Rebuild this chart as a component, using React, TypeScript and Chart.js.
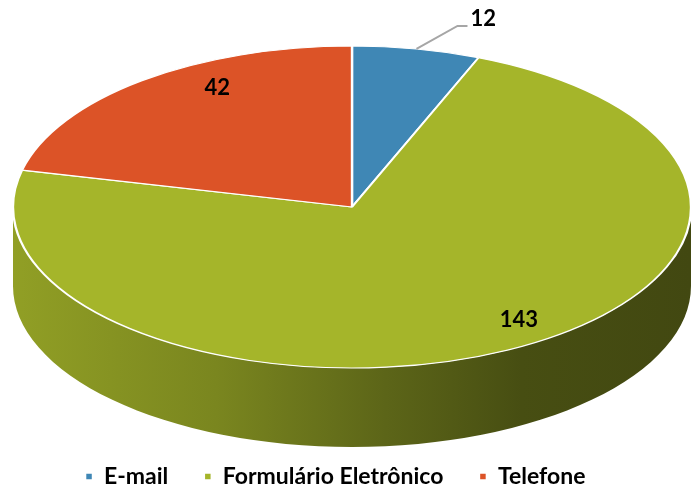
import React, { useEffect, useRef } from "react";
import { Chart, registerables } from "chart.js";
Chart.register(...registerables);

const categories = ["E-mail", "Formulário Eletrônico", "Telefone"];
const values = [12, 143, 42];
const colors = ["#3F87B5", "#A5B52A", "#DC5327"];

// ellipse geometry of the 3D pie top face (layout)
const GEO = { cx: 352, cy: 207, rx: 339, ry: 161, depth: 79 };
// label placement factors relative to slice mid-angle (layout)
const LABEL_FACTORS = [
  [0, 0],
  [1.07, 0.79],
  [0.64, 0.94],
];

function shade(hex: string, f: number) {
  const n = parseInt(hex.slice(1), 16);
  const r = Math.round(((n >> 16) & 255) * f);
  const g = Math.round(((n >> 8) & 255) * f);
  const b = Math.round((n & 255) * f);
  return `rgb(${r},${g},${b})`;
}

const pie3d = {
  id: "pie3d",
  beforeDatasetsDraw(chart: any) {
    const meta = chart.getDatasetMeta(0);
    const a0 = meta.data[0];
    const { x: x0, y: y0, outerRadius: R } = a0;
    const ctx = chart.ctx;
    const { cx, cy, rx, ry, depth } = GEO;
    meta.data.forEach((arc: any, i: number) => {
      const s = Math.max(arc.startAngle, 0);
      const e = Math.min(arc.endAngle, Math.PI);
      if (s >= e) return;
      const grad = ctx.createLinearGradient(cx - rx, 0, cx + rx, 0);
      const c = colors[i];
      grad.addColorStop(0, shade(c, 0.88));
      grad.addColorStop(0.3, shade(c, 0.74));
      grad.addColorStop(0.55, shade(c, 0.56));
      grad.addColorStop(0.75, shade(c, 0.43));
      grad.addColorStop(1, shade(c, 0.4));
      ctx.save();
      ctx.beginPath();
      ctx.ellipse(cx, cy, rx, ry, 0, s, e);
      ctx.ellipse(cx, cy + depth, rx, ry, 0, e, s, true);
      ctx.closePath();
      ctx.fillStyle = grad;
      ctx.fill();
      ctx.restore();
    });
    ctx.save();
    ctx.translate(cx, cy);
    ctx.scale(rx / R, ry / R);
    ctx.translate(-x0, -y0);
  },
  afterDatasetsDraw(chart: any) {
    const ctx = chart.ctx;
    ctx.restore();
    const meta = chart.getDatasetMeta(0);
    const { cx, cy, rx, ry } = GEO;
    ctx.save();
    ctx.font = "bold 22px Lato";
    ctx.fillStyle = "#000";
    ctx.textBaseline = "middle";
    meta.data.forEach((arc: any, i: number) => {
      const mid = (arc.startAngle + arc.endAngle) / 2;
      const txt = String(values[i]);
      if (i === 0) {
        const sx = cx + rx * Math.cos(mid);
        const sy = cy + ry * Math.sin(mid);
        const ex = sx + 41;
        const ey = sy - 23;
        ctx.strokeStyle = "#A6A6A6";
        ctx.lineWidth = 2;
        ctx.beginPath();
        ctx.moveTo(sx, sy);
        ctx.lineTo(ex, ey);
        ctx.lineTo(ex + 10, ey);
        ctx.stroke();
        ctx.textAlign = "left";
        ctx.fillText(txt, ex + 13, ey - 7);
      } else {
        const [fx, fy] = LABEL_FACTORS[i];
        ctx.textAlign = "center";
        ctx.fillText(txt, cx + rx * fx * Math.cos(mid), cy + ry * fy * Math.sin(mid));
      }
    });
    ctx.restore();
  },
};

export default function App() {
  const ref = useRef<HTMLCanvasElement>(null);
  useEffect(() => {
    const chart = new Chart(ref.current!, {
      type: "pie",
      data: {
        labels: categories,
        datasets: [
          {
            data: values,
            backgroundColor: colors,
            borderColor: "#FFFFFF",
            borderWidth: 1.5,
          },
        ],
      },
      options: {
        animation: false,
        responsive: true,
        maintainAspectRatio: false,
        events: [],
        layout: { padding: { bottom: -10, right: 20 } },
        plugins: {
          tooltip: { enabled: false },
          legend: {
            position: "bottom",
            labels: {
              boxWidth: 7,
              boxHeight: 7,
              padding: 36,
              color: "#000",
              font: { family: "Lato", weight: "bold", size: 23 },
            },
          },
        },
      },
      plugins: [pie3d],
    });
    return () => chart.destroy();
  }, []);
  return (
    <div style={{ position: "absolute", left: 0, top: 0, width: 691, height: 488, background: "#fff" }}>
      <canvas ref={ref} />
    </div>
  );
}
